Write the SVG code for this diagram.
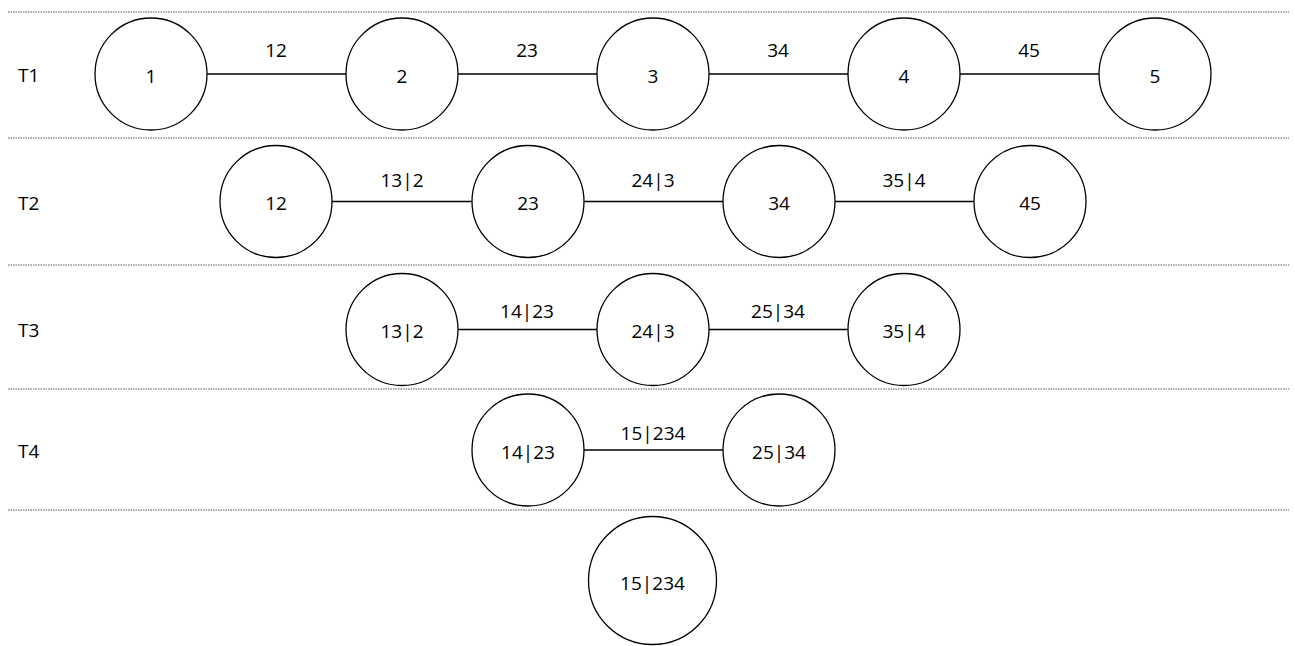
<svg xmlns="http://www.w3.org/2000/svg" width="1295" height="646" viewBox="0 0 1295 646">
<style>
.n{fill:#fff;stroke:#000;stroke-width:1.3}
.e{stroke:#000;stroke-width:1.3}
.sep{stroke:#555;stroke-width:1;stroke-dasharray:1.5 1}
text{font-family:"Open Sans","Liberation Sans",sans-serif;font-size:19px;fill:#000}
.c{text-anchor:middle}
</style>
<rect width="1295" height="646" fill="#fff"/>
<g id="separators">
<line class="sep" x1="8" y1="12" x2="1289" y2="12"/>
<line class="sep" x1="8" y1="138" x2="1289" y2="138"/>
<line class="sep" x1="8" y1="265" x2="1289" y2="265"/>
<line class="sep" x1="8" y1="389" x2="1289" y2="389"/>
<line class="sep" x1="8" y1="510" x2="1289" y2="510"/>
</g>
<g id="row-labels">
<text x="18" y="82">T1</text>
<text x="18" y="210">T2</text>
<text x="18" y="337">T3</text>
<text x="18" y="458">T4</text>
</g>
<g id="connectors">
<line class="e" x1="207" y1="74" x2="346" y2="74"/>
<line class="e" x1="458" y1="74" x2="597" y2="74"/>
<line class="e" x1="709" y1="74" x2="848" y2="74"/>
<line class="e" x1="960" y1="74" x2="1099" y2="74"/>
<text class="c" x="276" y="57">12</text>
<text class="c" x="527" y="57">23</text>
<text class="c" x="778" y="57">34</text>
<text class="c" x="1029" y="57">45</text>
<line class="e" x1="332" y1="201.5" x2="472" y2="201.5"/>
<line class="e" x1="584" y1="201.5" x2="723" y2="201.5"/>
<line class="e" x1="835" y1="201.5" x2="974" y2="201.5"/>
<text class="c" x="402" y="187">13|2</text>
<text class="c" x="653" y="187">24|3</text>
<text class="c" x="904" y="187">35|4</text>
<line class="e" x1="458" y1="329.5" x2="597" y2="329.5"/>
<line class="e" x1="709" y1="329.5" x2="848" y2="329.5"/>
<text class="c" x="527" y="318">14|23</text>
<text class="c" x="778" y="318">25|34</text>
<line class="e" x1="584" y1="450" x2="723" y2="450"/>
<text class="c" x="653" y="440">15|234</text>
</g>
<g id="n1"><circle class="n" cx="151" cy="74" r="56"/><text class="c" x="151" y="82.5">1</text></g>
<g id="n2"><circle class="n" cx="402" cy="74" r="56"/><text class="c" x="402" y="82.5">2</text></g>
<g id="n3"><circle class="n" cx="653" cy="74" r="56"/><text class="c" x="653" y="82.5">3</text></g>
<g id="n4"><circle class="n" cx="904" cy="74" r="56"/><text class="c" x="904" y="82.5">4</text></g>
<g id="n5"><circle class="n" cx="1155" cy="74" r="56"/><text class="c" x="1155" y="82.5">5</text></g>
<g id="n12"><circle class="n" cx="276" cy="201.5" r="56"/><text class="c" x="276" y="210">12</text></g>
<g id="n23"><circle class="n" cx="528" cy="201.5" r="56"/><text class="c" x="528" y="210">23</text></g>
<g id="n34"><circle class="n" cx="779" cy="201.5" r="56"/><text class="c" x="779" y="210">34</text></g>
<g id="n45"><circle class="n" cx="1030" cy="201.5" r="56"/><text class="c" x="1030" y="210">45</text></g>
<g id="n13_2"><circle class="n" cx="402" cy="329.5" r="56"/><text class="c" x="402" y="338">13|2</text></g>
<g id="n24_3"><circle class="n" cx="653" cy="329.5" r="56"/><text class="c" x="653" y="338">24|3</text></g>
<g id="n35_4"><circle class="n" cx="904" cy="329.5" r="56"/><text class="c" x="904" y="338">35|4</text></g>
<g id="n14_23"><circle class="n" cx="528" cy="450" r="56"/><text class="c" x="528" y="458.5">14|23</text></g>
<g id="n25_34"><circle class="n" cx="779" cy="450" r="56"/><text class="c" x="779" y="458.5">25|34</text></g>
<g id="n15_234"><circle class="n" cx="652.5" cy="580.5" r="64"/><text class="c" x="652.5" y="590">15|234</text></g>
</svg>
